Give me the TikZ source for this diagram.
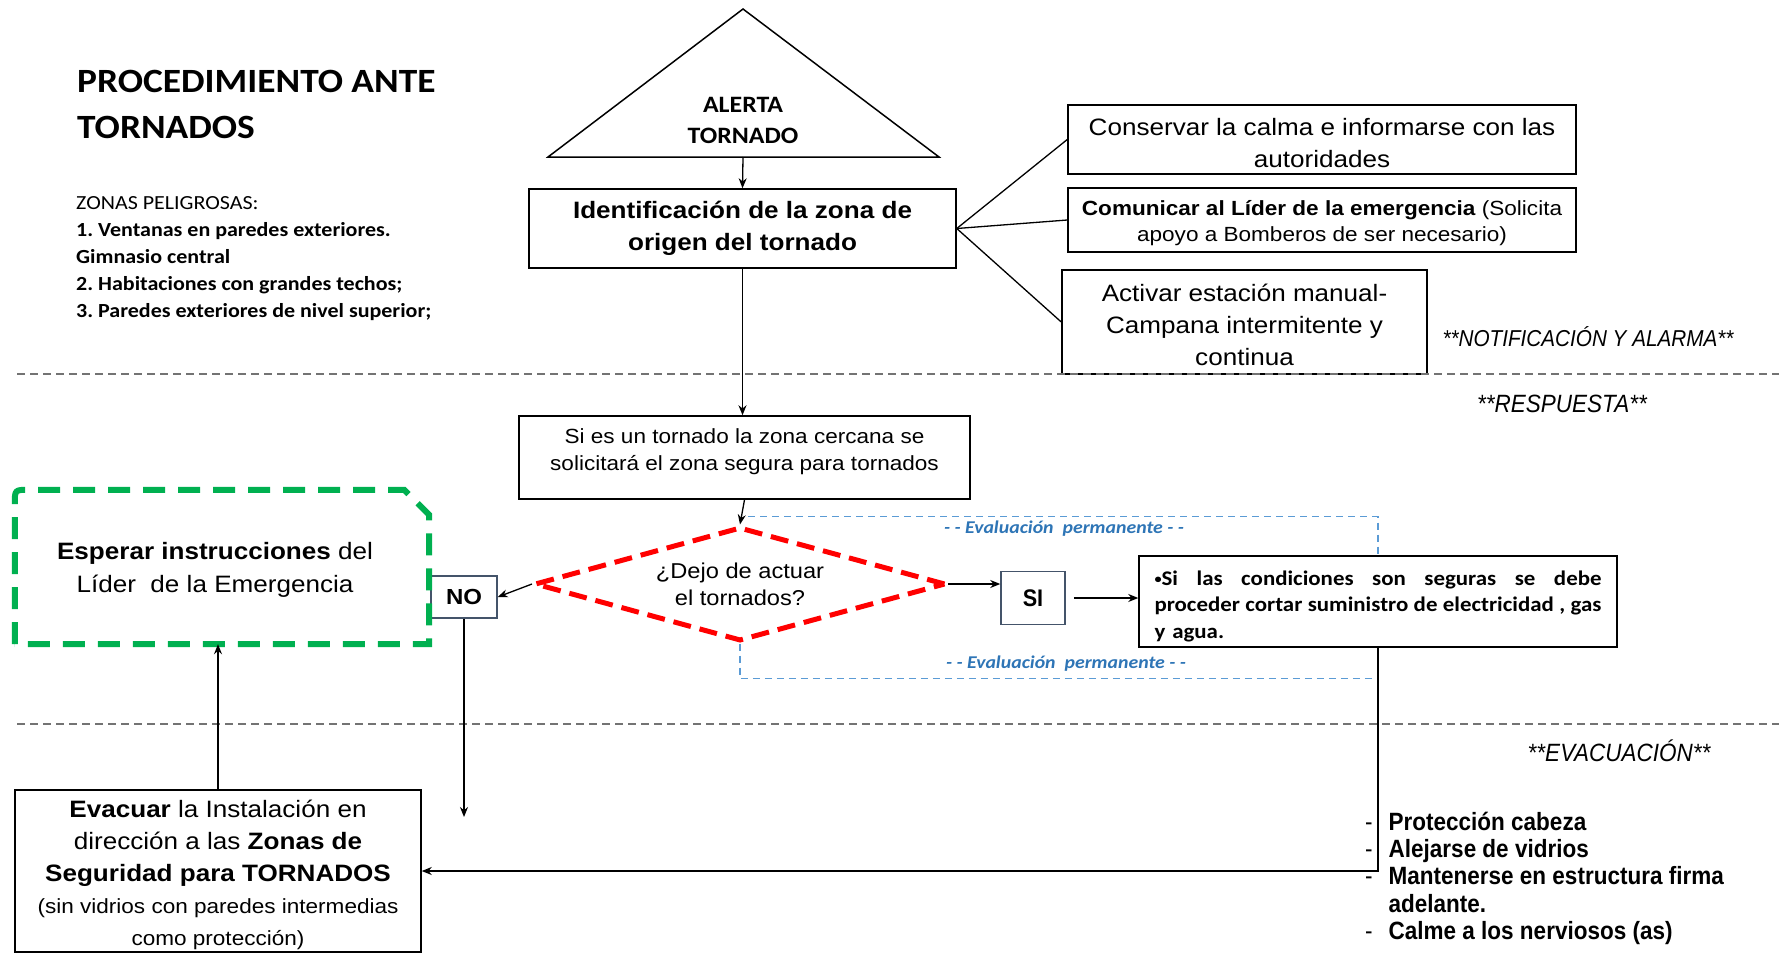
\documentclass[tikz,border=0pt]{standalone}
\usepackage{fontspec}
\usetikzlibrary{shapes.geometric,arrows.meta,calc}
\newfontfamily\arfont[FakeStretch=1.1]{Liberation Sans}
\newfontfamily\arnfont[FakeStretch=0.9]{Liberation Sans}
\newfontfamily\calfont[FakeStretch=1.1]{Carlito}
\newcommand\fsz[2]{\fontsize{#1}{#2}\selectfont}
\newcommand\jline[1]{\leavevmode\hbox to 447pt{#1}}
\definecolor{evblue}{HTML}{5B9BD5}
\definecolor{evlab}{HTML}{2E75B6}
\definecolor{slate}{HTML}{44546A}
\definecolor{grn}{HTML}{00B050}
\frenchspacing
\begin{document}
\begin{tikzpicture}[x=1pt,y=-1pt,
  box/.style={draw=black, line width=1.5pt, inner sep=0pt, align=center},
  txt/.style={inner sep=0pt, align=center},
  conn/.style={line width=1.3pt},
  arr/.style={conn,-{Stealth[length=10pt,width=8pt]}},
  evline/.style={draw=evblue, line width=1.3pt, dash pattern=on 7pt off 5pt},
  evlabel/.style={text=evlab, inner sep=0pt, font=\calfont\bfseries\itshape\fsz{18}{22}},
  sect/.style={inner sep=0pt, font=\arnfont\itshape\fsz{23}{28}},
  secline/.style={draw=black!55, line width=1.8pt, dash pattern=on 8pt off 5pt},
  smallbox/.style={draw=slate, line width=1.5pt, inner sep=0pt},
]
\useasboundingbox (0,0) rectangle (1779,953);

% title and hazard zones
\node[anchor=north west, inner sep=0pt, align=left, font=\calfont\bfseries\fsz{34}{46}] (title) at (77,70) {PROCEDIMIENTO ANTE\\TORNADOS};
\node[anchor=north west, inner sep=0pt, align=left, font=\calfont\fsz{20}{27}] (zonas) at (76,196) {ZONAS PELIGROSAS:\\\textbf{1. Ventanas en paredes exteriores.}\\\textbf{Gimnasio central}\\\textbf{2. Habitaciones con grandes techos;}\\\textbf{3. Paredes exteriores de nivel superior;}};

% alert triangle
\coordinate (tapex) at (743,9);
\coordinate (tl) at (548,157);
\coordinate (tr) at (939,157);
\coordinate (tbase) at (743,157);
\draw[line width=1.5pt, line join=miter] (tapex) -- (tr) -- (tl) -- cycle;
\node[txt, font=\calfont\bfseries\fsz{23.5}{31}] (alerta) at (743,120) {ALERTA\\TORNADO};

% notification boxes
\node[box, minimum width=427pt, minimum height=79pt, font=\arfont\bfseries\fsz{23.7}{32}] (ident) at (742.5,228.5) {Identificación de la zona de\\origen del tornado};
\node[box, minimum width=508pt, minimum height=69pt] (cons) at (1322,139.5) {};
\node[txt, font=\arfont\fsz{23.7}{32}] (constxt) at (1322,143.5) {Conservar la calma e informarse con las\\autoridades};
\node[box, minimum width=508pt, minimum height=64pt] (comu) at (1322,220) {};
\node[txt, font=\arfont\fsz{20.5}{26}] (comutxt) at (1322,223) {\textbf{Comunicar al Líder de la emergencia} (Solicita\\apoyo a Bomberos de ser necesario)};
\node[box, minimum width=365pt, minimum height=104pt] (acti) at (1244.5,322) {};
\node[txt, font=\arfont\fsz{23.7}{32}] (actitxt) at (1244.5,325) {Activar estación manual-\\Campana intermitente y\\continua};

\draw[arr] (tbase) -- (ident.north);
\draw[conn] (ident.east) -- (cons.west);
\draw[conn] (ident.east) -- (comu.west);
\draw[conn] (ident.east) -- (acti.west);

% section separators and labels
\coordinate (s1a) at (17,374);
\coordinate (s1b) at (1779,374);
\coordinate (s2a) at (17,724);
\coordinate (s2b) at (1779,724);
\draw[secline] (s1a) -- (s1b);
\draw[secline] (s2a) -- (s2b);
\node[sect] (lnot) at (1588,337) {**NOTIFICACIÓN Y ALARMA**};
\node[sect, font=\arnfont\itshape\fsz{25}{28}] (lres) at (1562,404) {**RESPUESTA**};
\node[sect, font=\arnfont\itshape\fsz{25}{28}] (leva) at (1619,751) {**EVACUACIÓN**};

% response
\node[box, minimum width=451pt, minimum height=83pt] (torn) at (744.5,457.5) {};
\node[txt, font=\arfont\fsz{20.5}{27}] (torntxt) at (744.5,452) {Si es un tornado la zona cercana se\\solicitará el zona segura para tornados};
\draw[arr] (ident.south) -- (ident.south |- torn.north);

\node[diamond, draw=red, line width=5pt, dash pattern=on 18pt off 9pt, minimum width=411pt, minimum height=114pt, inner sep=0pt, aspect=3.6, align=center, font=\arfont\fsz{21.5}{27}] (dia) at (740,584) {¿Dejo de actuar\\el tornados?};
\draw[arr] (torn.south) -- (dia.north);

\node[smallbox, minimum width=66pt, minimum height=42pt, font=\arfont\bfseries\fsz{21.8}{26}] (no) at (464,597) {NO};
\node[smallbox, minimum width=64pt, minimum height=53pt, font=\arnfont\bfseries\fsz{24}{28}] (si) at (1033,598) {SI};
\node[box, minimum width=478pt, minimum height=91pt] (cond) at (1378,601.5) {};
\node[txt, text width=447pt, align=left, font=\calfont\bfseries\fsz{20.8}{26.5}] (condtxt) at (1378,606) {\jline{{\fsz{13}{13}\raisebox{2pt}{•}}Si\hfill las\hfill condiciones\hfill son\hfill seguras\hfill se\hfill debe}\\\jline{proceder\hfill cortar\hfill suministro\hfill de\hfill electricidad\hfill ,\hfill gas}\\y agua.};

\draw[arr] (dia.west) -- (no.east);
\draw[arr] (dia.east) -- (dia.east -| si.west);
\draw[arr] ([xshift=8pt]si.east) -- (si.east -| cond.west);

% permanent evaluation loop
\draw[evline] ($(dia.north)+(8,-8)$) -| (cond.north);
\draw[evline] (dia.south) |- ($(cond.south)+(0,31)$) -- (cond.south);
\node[evlabel] (ev1) at (1064,529) {- - Evaluación\ \ permanente - -};
\node[evlabel] (ev2) at (1066,664) {- - Evaluación\ \ permanente - -};

% wait box
\node[inner sep=0pt, minimum width=414pt, minimum height=154pt] (esp) at (222,567) {};
\node[txt, font=\arfont\fsz{23.7}{33}] (esptxt) at (215,570) {\textbf{Esperar instrucciones} del\\Líder\ \ de la Emergencia};
\draw[draw=grn, line width=6pt, dash pattern=on 22pt off 13pt]
  (esp.south west) -- ($(esp.north west)+(0,14)$) .. controls (esp.north west) .. ($(esp.north west)+(14,0)$)
  -- ($(esp.north east)+(-25,0)$) -- ($(esp.north east)+(0,25)$) -- (esp.south east) -- cycle;

% evacuation
\node[box, minimum width=406pt, minimum height=162pt] (evac) at (218,871) {};
\node[txt, font=\arfont\fsz{23.7}{32}] (evactxt) at (218,875) {\textbf{Evacuar} la Instalación en\\dirección a las \textbf{Zonas de}\\\textbf{Seguridad para TORNADOS}\\{\fsz{20.5}{28}(sin vidrios con paredes intermedias}\\{\fsz{20.5}{28}como protección)}};
\coordinate (noend) at (464,817);
\draw[arr] (no.south) -- (noend);
\draw[arr] (cond.south) |- (evac.east);
\draw[arr] (evac.north) -- (evac.north |- esp.south);

\node[anchor=north west, inner sep=0pt, font=\arnfont\fsz{25}{27.3}] (list) at (1365,811) {\begin{tabular}{@{}c@{\hspace{16pt}}l@{}}
- & \textbf{Protección cabeza}\\
- & \textbf{Alejarse de vidrios}\\
- & \textbf{Mantenerse en estructura firma}\\
  & \textbf{adelante.}\\
- & \textbf{Calme a los nerviosos (as)}
\end{tabular}};
\end{tikzpicture}
\end{document}
